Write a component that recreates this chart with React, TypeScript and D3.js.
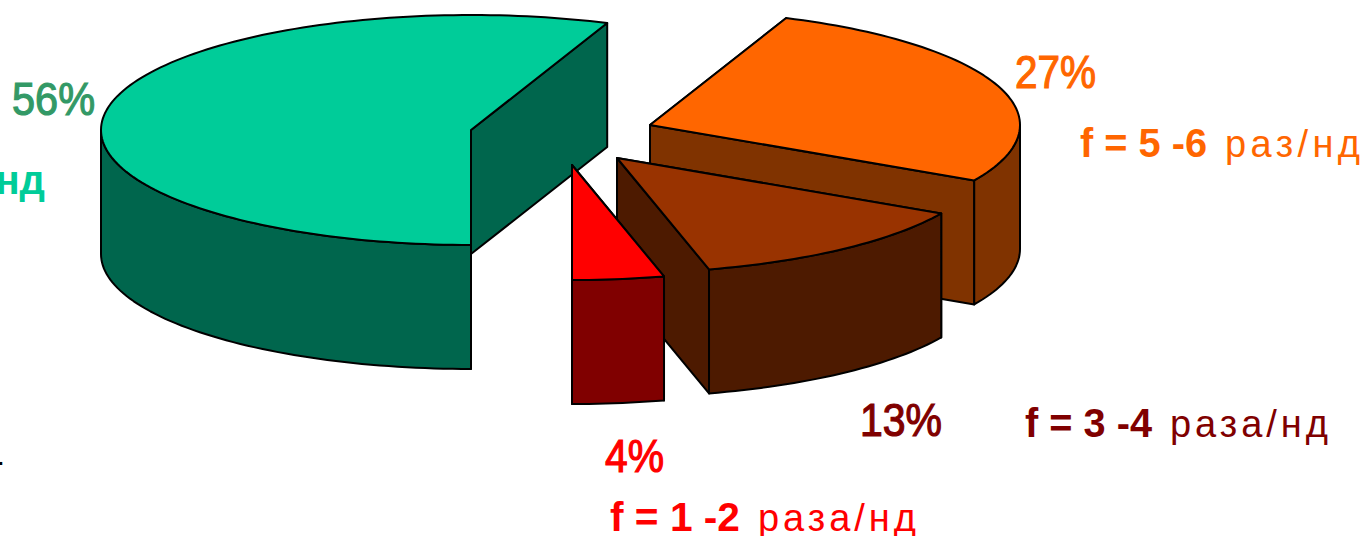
import React from "react";
import * as d3 from "d3";

const width = 1364;
const height = 536;

// chart values, in drawing order
const shares = [56, 27, 13, 4];
const frequencies = ["", "f = 5 -6", "f = 3 -4", "f = 1 -2"];
const units = ["", "раз/нд", "раза/нд", "раза/нд"];

const topColors = ["#00CC99", "#FF6600", "#993300", "#FF0000"];
const sideColors = ["#00664D", "#803300", "#4D1A00", "#800000"];
const pctColors = ["#339966", "#FF6600", "#800000", "#FF0000"];

// where each exploded slice sits on the page
const centers: [number, number][] = [
  [471, 130],
  [650, 125],
  [617, 158],
  [572, 165],
];
const rx = 370;
const ry = 115;
const depth = 124;

// pie starts at the bottom of the ellipse and runs clockwise
const pie = d3.pie<number>().sort(null).startAngle(Math.PI).endAngle(3 * Math.PI);
const arcs = pie(shares);

const pt = (c: [number, number], a: number, dy = 0): [number, number] => [
  c[0] + rx * Math.sin(a),
  c[1] - ry * Math.cos(a) + dy,
];

const line = d3.line();

const sampleArc = (c: [number, number], a0: number, a1: number, dy = 0) => {
  const n = Math.max(2, Math.ceil(Math.abs(a1 - a0) * 40));
  return d3.range(n + 1).map((i) => pt(c, a0 + ((a1 - a0) * i) / n, dy));
};

// top surface of a slice
const topPath = (c: [number, number], a0: number, a1: number) =>
  line([c, ...sampleArc(c, a0, a1), c]) + "Z";

// outer wall, only the stretches facing the viewer (cos < 0)
const wallPath = (c: [number, number], a0: number, a1: number) => {
  const ranges = [
    [Math.PI / 2, 1.5 * Math.PI],
    [2.5 * Math.PI, 3.5 * Math.PI],
  ];
  return ranges
    .map(([lo, hi]) => {
      const s = Math.max(a0, lo);
      const e = Math.min(a1, hi);
      if (e <= s) return "";
      return line([...sampleArc(c, s, e), ...sampleArc(c, e, s, depth)]) + "Z";
    })
    .join("");
};

// flat cut face running from the centre to the rim
const facePath = (c: [number, number], a: number) => {
  const rim = pt(c, a);
  return line([c, rim, [rim[0], rim[1] + depth], [c[0], c[1] + depth]]) + "Z";
};

const percentBoxes = [
  { x: 12, y: 115, w: 83, size: 46 },
  { x: 1015, y: 88, w: 81, size: 46 },
  { x: 860, y: 436, w: 82, size: 46 },
  { x: 605, y: 472, w: 59, size: 46 },
];

const freqBoxes = [
  null,
  { x: 1080, y: 157, w: 127, ux: 1225, uw: 135 },
  { x: 1025, y: 437, w: 127, ux: 1170, uw: 158 },
  { x: 610, y: 531, w: 130, ux: 758, uw: 158 },
];

const font = "'Liberation Sans', Arial, sans-serif";

export default function App() {
  return (
    <svg
      width={width}
      height={height}
      style={{ position: "absolute", left: 0, top: 0, background: "#fff" }}
      fontFamily={font}
    >
      {arcs.map((d, i) => {
        const c = centers[i];
        return (
          <g key={i} stroke="#000" strokeWidth={2} strokeLinejoin="round">
            <path d={facePath(c, d.startAngle)} fill={sideColors[i]} />
            <path d={facePath(c, d.endAngle)} fill={sideColors[i]} />
            <path d={wallPath(c, d.startAngle, d.endAngle)} fill={sideColors[i]} />
            <path d={topPath(c, d.startAngle, d.endAngle)} fill={topColors[i]} />
          </g>
        );
      })}

      {shares.map((v, i) => (
        <text
          key={i}
          x={percentBoxes[i].x}
          y={percentBoxes[i].y}
          fontSize={percentBoxes[i].size}
          textLength={percentBoxes[i].w}
          lengthAdjust="spacingAndGlyphs"
          fill={pctColors[i]}
          stroke={pctColors[i]}
          strokeWidth={1.2}
        >
          {v}%
        </text>
      ))}

      {freqBoxes.map((b, i) =>
        b ? (
          <g key={i} fill={pctColors[i]} fontSize={40}>
            <text x={b.x} y={b.y} fontWeight="bold" textLength={b.w} lengthAdjust="spacingAndGlyphs">
              {frequencies[i]}
            </text>
            <text x={b.ux} y={b.y} fontSize={38} textLength={b.uw}>
              {units[i]}
            </text>
          </g>
        ) : null
      )}

      {/* remains of labels cut off at the left edge */}
      <text x={45} y={194} textAnchor="end" fontSize={40} fontWeight="bold" fill={topColors[0]}>
        нд
      </text>
      <text x={-2} y={465} fontSize={20} fontWeight="bold" fill="#000">
        .
      </text>
    </svg>
  );
}
